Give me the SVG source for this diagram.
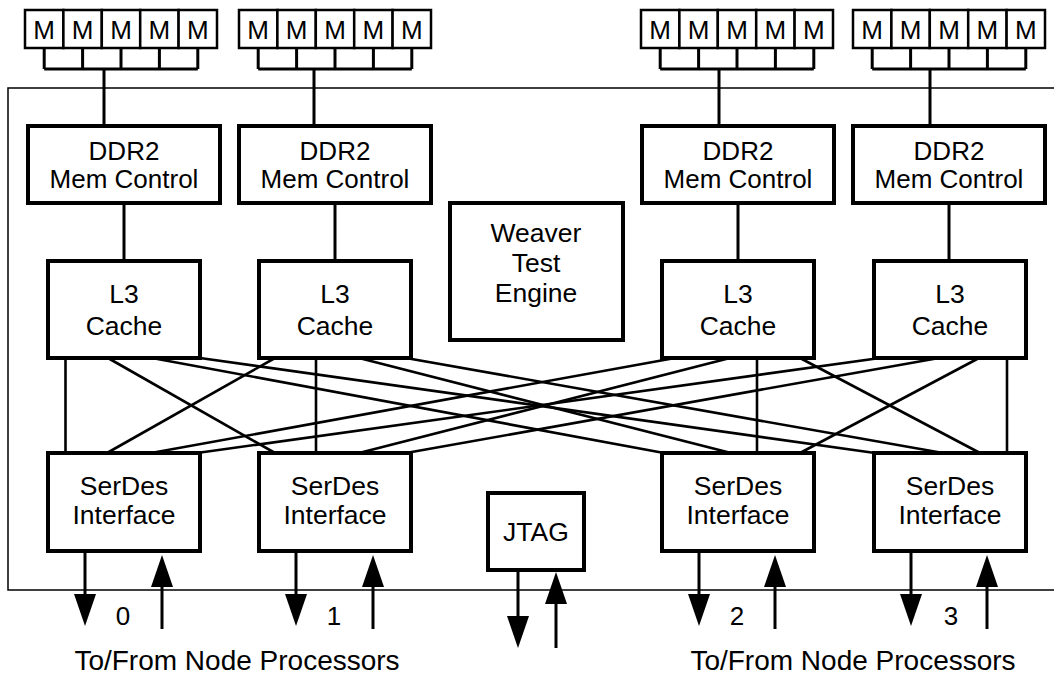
<svg xmlns="http://www.w3.org/2000/svg" width="1054" height="677" viewBox="0 0 1054 677">
<defs>
<style>
text{font-family:"Liberation Sans",Arial,Helvetica,sans-serif;fill:#000;text-anchor:middle}
.box{fill:#fff;stroke:#000;stroke-width:4}
.cell{fill:#fff;stroke:#000;stroke-width:2.5}
.ln{stroke:#000;stroke-width:3;fill:none}
.xl{stroke:#000;stroke-width:2.6;fill:none}
.lbl{font-size:26.5px}
.ddr{font-size:26px}
.m{font-size:26px}
.big{font-size:28px}
.num{font-size:26px}
</style>
<marker id="ah" viewBox="0 0 32 22" refX="22" refY="11" markerWidth="32" markerHeight="22" markerUnits="userSpaceOnUse" orient="auto"><path d="M0,0 L32,11 L0,22 z" fill="#000"/></marker>
<g id="memgrp">
<rect class="cell" x="0" y="10" width="38.4" height="38"/>
<rect class="cell" x="38.4" y="10" width="38.4" height="38"/>
<rect class="cell" x="76.8" y="10" width="38.4" height="38"/>
<rect class="cell" x="115.2" y="10" width="38.4" height="38"/>
<rect class="cell" x="153.6" y="10" width="38.4" height="38"/>
<text class="m" x="19.2" y="38.5">M</text>
<text class="m" x="57.6" y="38.5">M</text>
<text class="m" x="96" y="38.5">M</text>
<text class="m" x="134.4" y="38.5">M</text>
<text class="m" x="172.8" y="38.5">M</text>
<path class="ln" d="M19.2,48 V69 M57.6,48 V69 M96,48 V69 M134.4,48 V69 M172.8,48 V69 M19.2,69 H172.8"/>
</g>
</defs>

<rect id="chip" x="8" y="88" width="1060" height="502" fill="none" stroke="#000" stroke-width="1.5"/>

<g id="connectors">
<path class="ln" d="M104,69 V126 M314,69 V126 M719,69 V126 M930,69 V126"/>
<path class="ln" d="M124,203 V261 M335,203 V261 M738,203 V261 M949,203 V261"/>
<g class="xl">
<line x1="65.5" y1="358" x2="65.5" y2="453"/>
<line x1="108" y1="358" x2="275" y2="453"/>
<line x1="152" y1="358" x2="664" y2="453"/>
<line x1="200" y1="358" x2="875" y2="453"/>
<line x1="275" y1="358" x2="107" y2="453"/>
<line x1="316" y1="358" x2="316" y2="453"/>
<line x1="359" y1="358" x2="731" y2="453"/>
<line x1="406" y1="358" x2="943" y2="453"/>
<line x1="675" y1="358" x2="151" y2="453"/>
<line x1="730" y1="358" x2="359" y2="453"/>
<line x1="757" y1="358" x2="757" y2="453"/>
<line x1="800" y1="358" x2="980" y2="453"/>
<line x1="880" y1="358" x2="197" y2="453"/>
<line x1="939" y1="358" x2="406" y2="453"/>
<line x1="979" y1="358" x2="800" y2="453"/>
<line x1="1007" y1="358" x2="1007" y2="453"/>
</g>
<g class="ln">
<line x1="85" y1="553" x2="85" y2="616" marker-end="url(#ah)"/>
<line x1="162" y1="629" x2="162" y2="565" marker-end="url(#ah)"/>
<line x1="296" y1="553" x2="296" y2="616" marker-end="url(#ah)"/>
<line x1="373" y1="629" x2="373" y2="565" marker-end="url(#ah)"/>
<line x1="699" y1="553" x2="699" y2="616" marker-end="url(#ah)"/>
<line x1="775" y1="629" x2="775" y2="565" marker-end="url(#ah)"/>
<line x1="911" y1="553" x2="911" y2="616" marker-end="url(#ah)"/>
<line x1="987" y1="629" x2="987" y2="565" marker-end="url(#ah)"/>
<line x1="518" y1="572" x2="518" y2="638" marker-end="url(#ah)"/>
<line x1="556" y1="648" x2="556" y2="582" marker-end="url(#ah)"/>
</g>
</g>

<g id="mem0"><use href="#memgrp" x="25"/></g>
<g id="mem1"><use href="#memgrp" x="239"/></g>
<g id="mem2"><use href="#memgrp" x="641"/></g>
<g id="mem3"><use href="#memgrp" x="853"/></g>

<g id="ddr0"><rect class="box" x="28" y="126" width="192" height="77"/><text class="ddr" x="124" y="160">DDR2</text><text class="ddr" x="124" y="188">Mem Control</text></g>
<g id="ddr1"><rect class="box" x="239" y="126" width="192" height="77"/><text class="ddr" x="335" y="160">DDR2</text><text class="ddr" x="335" y="188">Mem Control</text></g>
<g id="ddr2"><rect class="box" x="642" y="126" width="192" height="77"/><text class="ddr" x="738" y="160">DDR2</text><text class="ddr" x="738" y="188">Mem Control</text></g>
<g id="ddr3"><rect class="box" x="853" y="126" width="192" height="77"/><text class="ddr" x="949" y="160">DDR2</text><text class="ddr" x="949" y="188">Mem Control</text></g>

<g id="weaver"><rect class="box" x="450" y="203" width="173" height="137"/><text class="lbl" x="536" y="242">Weaver</text><text class="lbl" x="536" y="272">Test</text><text class="lbl" x="536" y="302">Engine</text></g>

<g id="l3_0"><rect class="box" x="48" y="261" width="152" height="97"/><text class="lbl" x="124" y="303">L3</text><text class="lbl" x="124" y="335">Cache</text></g>
<g id="l3_1"><rect class="box" x="259" y="261" width="152" height="97"/><text class="lbl" x="335" y="303">L3</text><text class="lbl" x="335" y="335">Cache</text></g>
<g id="l3_2"><rect class="box" x="662" y="261" width="152" height="97"/><text class="lbl" x="738" y="303">L3</text><text class="lbl" x="738" y="335">Cache</text></g>
<g id="l3_3"><rect class="box" x="874" y="261" width="152" height="97"/><text class="lbl" x="950" y="303">L3</text><text class="lbl" x="950" y="335">Cache</text></g>

<g id="serdes0"><rect class="box" x="48" y="453" width="152" height="98"/><text class="lbl" x="124" y="495">SerDes</text><text class="lbl" x="124" y="524">Interface</text></g>
<g id="serdes1"><rect class="box" x="259" y="453" width="152" height="98"/><text class="lbl" x="335" y="495">SerDes</text><text class="lbl" x="335" y="524">Interface</text></g>
<g id="serdes2"><rect class="box" x="662" y="453" width="152" height="98"/><text class="lbl" x="738" y="495">SerDes</text><text class="lbl" x="738" y="524">Interface</text></g>
<g id="serdes3"><rect class="box" x="874" y="453" width="152" height="98"/><text class="lbl" x="950" y="495">SerDes</text><text class="lbl" x="950" y="524">Interface</text></g>

<g id="jtag"><rect class="box" x="488" y="493" width="96" height="77"/><text class="lbl" x="536" y="541">JTAG</text></g>

<g id="labels">
<text class="num" x="123" y="625">0</text>
<text class="num" x="334" y="625">1</text>
<text class="num" x="737" y="625">2</text>
<text class="num" x="951" y="625">3</text>
<text class="big" x="237" y="670">To/From Node Processors</text>
<text class="big" x="853" y="670">To/From Node Processors</text>
</g>
</svg>
